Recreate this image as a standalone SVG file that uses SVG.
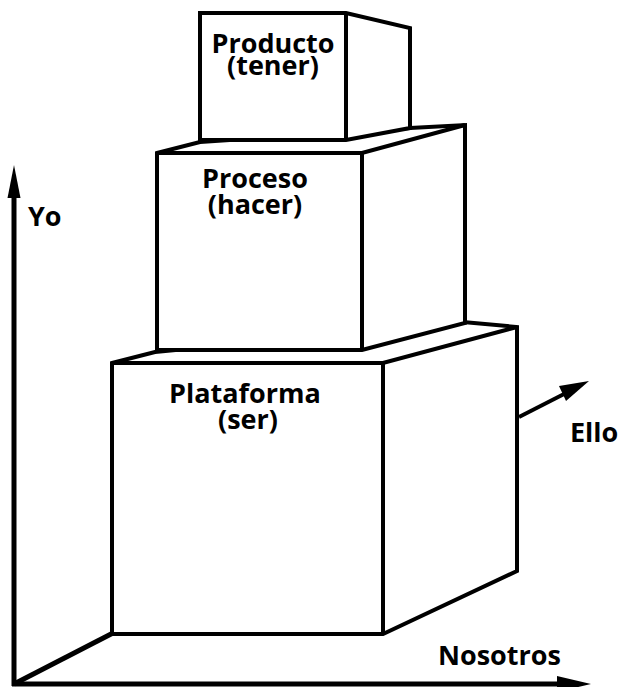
<svg xmlns="http://www.w3.org/2000/svg" width="621" height="687" viewBox="0 0 621 687">
<style>
.box{fill:#fff;stroke:#000;stroke-width:4;stroke-linejoin:miter}
.edge{fill:none;stroke:#000;stroke-width:4}
.axis{fill:none;stroke:#000;stroke-width:5}
.lbl{font-family:"Open Sans","Liberation Sans",sans-serif;font-weight:bold;font-size:27px;fill:#000;text-anchor:middle}
.ax{font-family:"Open Sans","Liberation Sans",sans-serif;font-weight:bold;font-size:27px;fill:#000}
</style>
<rect width="621" height="687" fill="#fff"/>
<g id="connectors">
  <line class="axis" x1="14" y1="686" x2="14" y2="192"/>
  <polygon points="14,165 7.5,198 20.5,198" fill="#000"/>
  <line class="axis" x1="12" y1="684" x2="562" y2="684"/>
  <polygon points="591,684 557,676 557,692" fill="#000"/>
  <line class="axis" x1="14" y1="684" x2="113" y2="633"/>
  <line class="edge" x1="519" y1="417" x2="566" y2="393"/>
  <polygon points="589,381 559,386 566,401" fill="#000"/>
</g>
<g id="plataforma">
  <polygon class="box" points="112,363 155,352 463,322 517,327 517,571 383,634 112,634"/>
  <polyline class="edge" points="112,363 383,363 517,327"/>
  <line class="edge" x1="383" y1="363" x2="383" y2="634"/>
  <text class="lbl" x="245" y="403">Plataforma</text>
  <text class="lbl" x="248" y="429">(ser)</text>
</g>
<g id="proceso">
  <polygon class="box" points="157,153 200,142 410,128 465,125 465,323 362,350 157,350"/>
  <polyline class="edge" points="157,153 362,153 465,125"/>
  <line class="edge" x1="362" y1="153" x2="362" y2="350"/>
  <text class="lbl" x="255" y="188">Proceso</text>
  <text class="lbl" x="255" y="214">(hacer)</text>
</g>
<g id="producto">
  <polygon class="box" points="200,13 346,13 410,28 410,128 346,140 200,140"/>
  <line class="edge" x1="346" y1="13" x2="346" y2="140"/>
  <text class="lbl" x="273" y="53">Producto</text>
  <text class="lbl" x="273" y="75">(tener)</text>
</g>
<g id="axis-labels">
  <text class="ax" x="28" y="226">Yo</text>
  <text class="ax" x="570" y="442">Ello</text>
  <text class="ax" x="438" y="665">Nosotros</text>
</g>
</svg>
